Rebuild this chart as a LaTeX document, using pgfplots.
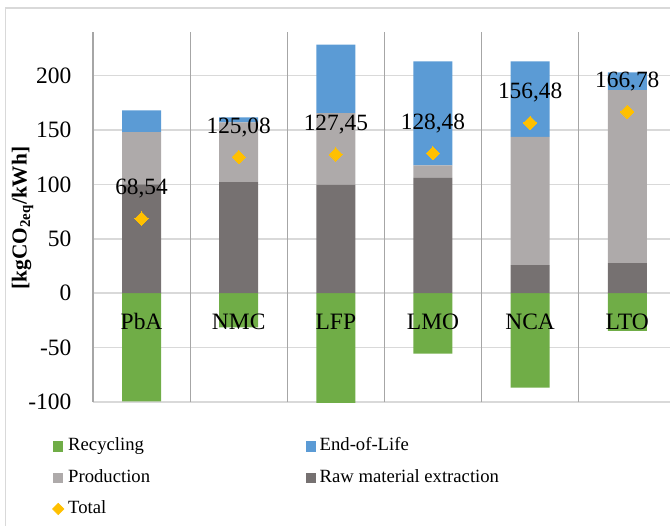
\documentclass[border=0pt]{standalone}
\usepackage{fontspec}
\setmainfont{Liberation Serif}
\usepackage{pgfplots}
\pgfplotsset{compat=1.18}
\definecolor{recc}{HTML}{70AD47}
\definecolor{eolc}{HTML}{5B9BD5}
\definecolor{prodc}{HTML}{AEAAAA}
\definecolor{rawc}{HTML}{767171}
\definecolor{totc}{HTML}{FFC000}
\definecolor{gridc}{HTML}{D9D9D9}
\definecolor{sepc}{HTML}{A6A6A6}
\pgfplotsset{
  geom/.style={at={(69.75pt,-24pt)}, anchor=north west,
    scale only axis, width=432.75pt, height=277.5pt,
    xmin=-0.5, xmax=5.44, ymin=-100, ymax=240,
    major tick length=0pt, axis line style={draw=none},
    tick label style={font=\rmfamily\fontsize{17.6}{20}\selectfont}},
}
\begin{document}
\begin{tikzpicture}
\path[use as bounding box] (0,0) rectangle (502.5pt,-393.75pt);
\draw[gridc, line width=0.9pt] (4.3pt,-400pt) -- (4.3pt,-6pt) -- (510pt,-6pt);
\begin{axis}[
  geom,
  ybar stacked, bar width=29.25pt,
  xtick=\empty,
  ytick={-100,-50,0,50,100,150,200},
  yticklabels={-100,-50,0,50,100,150,200},
  yticklabel style={anchor=east, inner sep=0pt, xshift=-16pt},
  ymajorgrids, major grid style={gridc, line width=1.2pt},
  extra x ticks={-0.5,0.5,1.5,2.5,3.5,4.5}, extra x tick labels={},
  extra x tick style={grid=major, major grid style={sepc, line width=0.9pt}},
  ylabel={[kgCO\textsubscript{2eq}/kWh]},
  ylabel style={at={(axis description cs:-0.1222,0.497)}, anchor=center, font=\rmfamily\bfseries\fontsize{16}{19}\selectfont},
  legend columns=2,
  legend cell align=left,
  legend style={at={(axis description cs:-0.0711,-0.0955)}, anchor=north west, draw=none, fill=none, inner sep=0pt, row sep=10.5pt, font=\rmfamily\fontsize{14}{16}\selectfont, nodes={inner sep=0pt, text height=10pt, text depth=3pt}, /tikz/every odd column/.style={column sep=3pt}, /tikz/column 2/.style={column sep=117pt}},
]
\addplot[fill=rawc, draw=none, forget plot] coordinates {(0,100) (1,102) (2,99.5) (3,106) (4,25.7) (5,27.6)};
\addplot[fill=prodc, draw=none, forget plot] coordinates {(0,48) (1,55) (2,66) (3,11.5) (4,118) (5,159)};
\addplot[fill=eolc, draw=none, forget plot] coordinates {(0,20) (1,4.5) (2,63) (3,95.5) (4,69.3) (5,16.4)};
\addplot[fill=recc, draw=none, forget plot, stack plots=false] coordinates {(0,-99.5) (1,-31.5) (2,-101) (3,-55.5) (4,-86.7) (5,-34.6)};
\addlegendimage{legend image code/.code={\fill[recc] (0pt,-3.4pt) rectangle (6.75pt,3.4pt);}}
\addlegendentry{Recycling}
\addlegendimage{legend image code/.code={\fill[eolc] (0pt,-3.4pt) rectangle (6.75pt,3.4pt);}}
\addlegendentry{End-of-Life}
\addlegendimage{legend image code/.code={\fill[prodc] (0pt,-3.4pt) rectangle (6.75pt,3.4pt);}}
\addlegendentry{Production}
\addlegendimage{legend image code/.code={\fill[rawc] (0pt,-3.4pt) rectangle (6.75pt,3.4pt);}}
\addlegendentry{Raw material extraction}
\addlegendimage{legend image code/.code={\fill[totc] (3.4pt,-4.3pt) -- (7.7pt,0pt) -- (3.4pt,4.3pt) -- (-0.9pt,0pt) -- cycle;}}
\addlegendentry{Total}
\end{axis}
\begin{axis}[
  geom,
  ytick=\empty,
  xtick={0,...,5}, xticklabels={PbA,NMC,LFP,LMO,NCA,LTO},
  xticklabel style={anchor=base, inner sep=0pt, yshift=54.75pt},
  clip=false,
]
\addplot[color=totc, only marks, mark=square*, mark size=3.5pt, mark options={rotate=45, fill=totc, draw=totc, line width=0pt},
  nodes near coords, point meta=explicit symbolic,
  nodes near coords style={anchor=base, inner sep=0pt, yshift=18pt, font=\rmfamily\fontsize{17.5}{20}\selectfont, text=black}]
  table[x=x, y=y, meta=lab] {
x y lab
0 68.54 68,54
1 125.08 125,08
2 127.45 127,45
3 128.48 128,48
4 156.48 156,48
5 166.78 166,78
};
\end{axis}
\end{tikzpicture}
\end{document}
